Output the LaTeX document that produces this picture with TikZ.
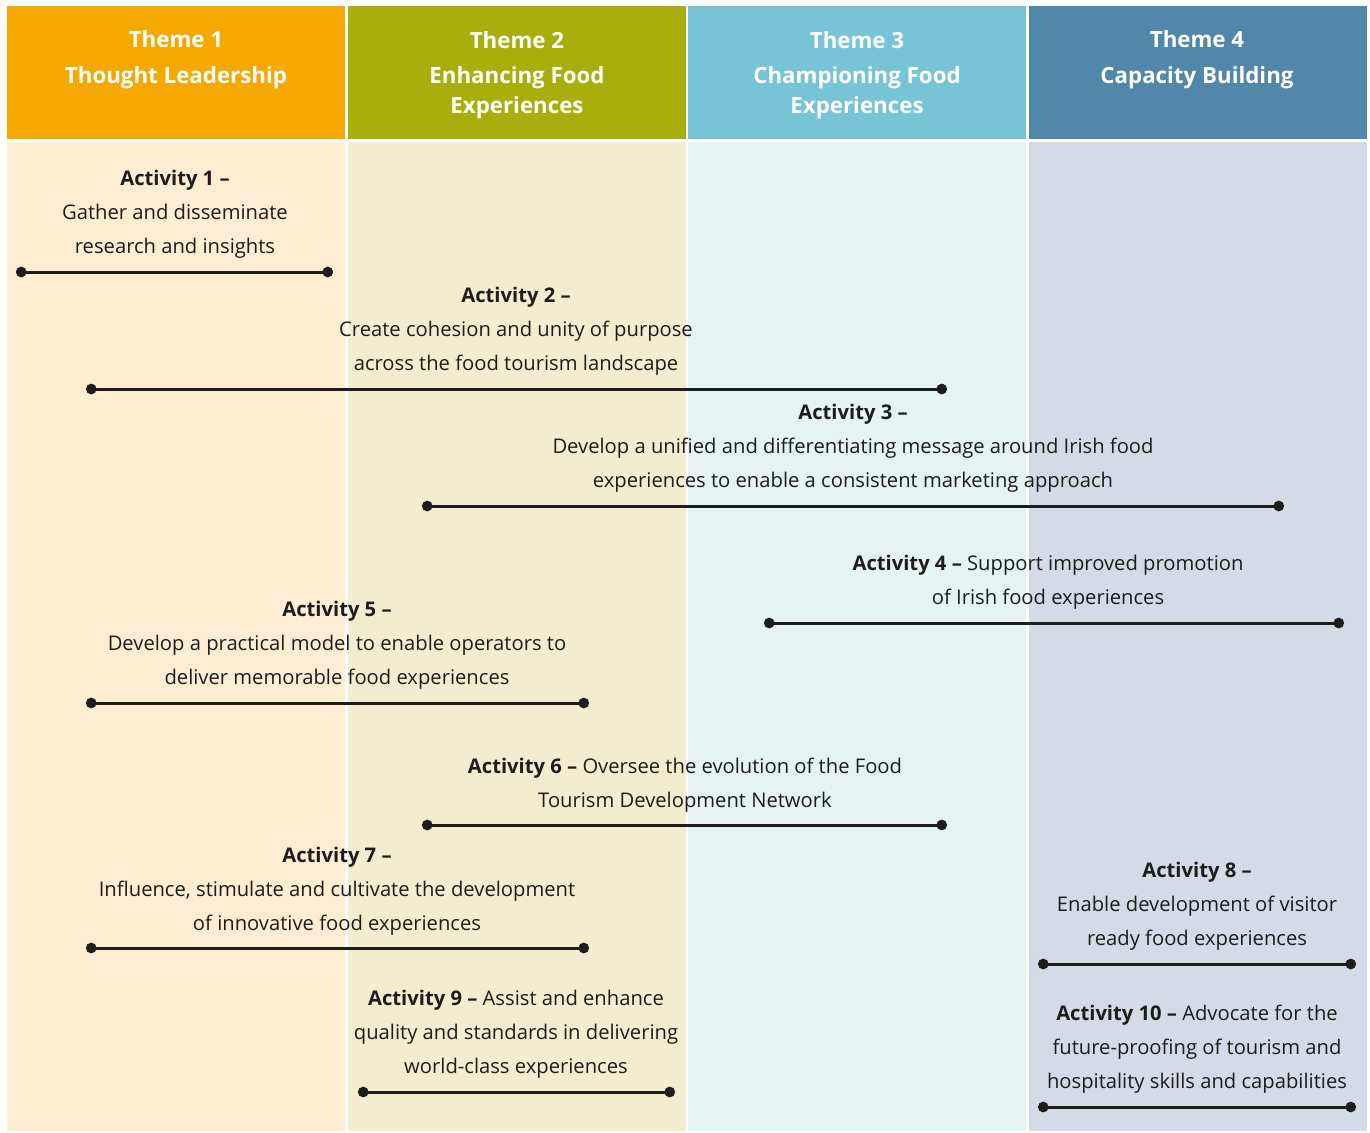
\documentclass[tikz,border=0pt]{standalone}
\usepackage{fontspec}
\setmainfont{Open Sans}
\usetikzlibrary{arrows.meta}
\definecolor{hdrA}{HTML}{F5A800}
\definecolor{hdrB}{HTML}{A9AE0C}
\definecolor{hdrC}{HTML}{78C4D7}
\definecolor{hdrD}{HTML}{5087AA}
\definecolor{bodyA}{HTML}{FEECD3}
\definecolor{bodyB}{HTML}{F2EDD0}
\definecolor{bodyC}{HTML}{E5F3F3}
\definecolor{bodyD}{HTML}{D4DBE6}
\definecolor{ink}{HTML}{1D1D1B}
\begin{document}
\begin{tikzpicture}[x=1pt,y=-1pt,
  % multi-line nodes are placed by the baseline of their last line
  themehead/.style={anchor=base,align=center,text=white,inner sep=0pt,
    font=\fontsize{22.3}{29}\selectfont\bfseries},
  activity/.style={anchor=base,align=center,text=ink,inner sep=0pt,
    font=\fontsize{20.2}{34}\selectfont},
  span/.style={line width=3pt,draw=ink,shorten <=-5pt,shorten >=-5pt,
    {Circle[length=10.5pt]}-{Circle[length=10.5pt]}}]
\useasboundingbox (0,0) rectangle (1370,1132);
\fill[white] (0,0) rectangle (1370,1132);
% column backgrounds
\fill[hdrA] (7,6) rectangle (345,139);
\fill[hdrB] (348,6) rectangle (686,139);
\fill[hdrC] (688,6) rectangle (1026,139);
\fill[hdrD] (1029,6) rectangle (1367,139);
\fill[bodyA] (7,142) rectangle (345,1131);
\fill[bodyB] (348,142) rectangle (686,1131);
\fill[bodyC] (688,142) rectangle (1026,1131);
\fill[bodyD] (1029,142) rectangle (1367,1131);
% theme headings
\node[themehead] (t1) at (176,84) {Theme 1\\[7pt]Thought Leadership};
\node[themehead] (t2) at (517,113) {Theme 2\\[7pt]Enhancing Food\\Experiences};
\node[themehead] (t3) at (857,113) {Theme 3\\[7pt]Championing Food\\Experiences};
\node[themehead] (t4) at (1197,84) {Theme 4\\[7pt]Capacity Building};
% activities
\node[activity] (a1) at (175,253) {\textbf{Activity 1 –}\\Gather and disseminate\\research and insights};
\coordinate (a1l) at (21,272); \coordinate (a1r) at (328,272);
\draw[span] (a1l) -- (a1r);

\node[activity] (a2) at (516,370) {\textbf{Activity 2 –}\\Create cohesion and unity of purpose\\across the food tourism landscape};
\coordinate (a2l) at (91,389); \coordinate (a2r) at (942,389);
\draw[span] (a2l) -- (a2r);

\node[activity] (a3) at (853,487) {\textbf{Activity 3 –}\\Develop a unified and differentiating message around Irish food\\experiences to enable a consistent marketing approach};
\coordinate (a3l) at (427,506); \coordinate (a3r) at (1279,506);
\draw[span] (a3l) -- (a3r);

\node[activity] (a4) at (1048,604) {\textbf{Activity 4 –} Support improved promotion\\of Irish food experiences};
\coordinate (a4l) at (769,623); \coordinate (a4r) at (1339,623);
\draw[span] (a4l) -- (a4r);

\node[activity] (a5) at (337,684) {\textbf{Activity 5 –}\\Develop a practical model to enable operators to\\deliver memorable food experiences};
\coordinate (a5l) at (91,703); \coordinate (a5r) at (584,703);
\draw[span] (a5l) -- (a5r);

\node[activity] (a6) at (685,807) {\textbf{Activity 6 –} Oversee the evolution of the Food\\Tourism Development Network};
\coordinate (a6l) at (427,825); \coordinate (a6r) at (942,825);
\draw[span] (a6l) -- (a6r);

\node[activity] (a7) at (337,930) {\textbf{Activity 7 –}\\Influence, stimulate and cultivate the development\\of innovative food experiences};
\coordinate (a7l) at (91,948); \coordinate (a7r) at (584,948);
\draw[span] (a7l) -- (a7r);

\node[activity] (a8) at (1197,945) {\textbf{Activity 8 –}\\Enable development of visitor\\ready food experiences};
\coordinate (a8l) at (1043,964); \coordinate (a8r) at (1351,964);
\draw[span] (a8l) -- (a8r);

\node[activity] (a9) at (516,1073) {\textbf{Activity 9 –} Assist and enhance\\quality and standards in delivering\\world-class experiences};
\coordinate (a9l) at (363,1092); \coordinate (a9r) at (670,1092);
\draw[span] (a9l) -- (a9r);

\node[activity] (a10) at (1197,1088) {\textbf{Activity 10 –} Advocate for the\\future-proofing of tourism and\\hospitality skills and capabilities};
\coordinate (a10l) at (1043,1107); \coordinate (a10r) at (1351,1107);
\draw[span] (a10l) -- (a10r);
\end{tikzpicture}
\end{document}
